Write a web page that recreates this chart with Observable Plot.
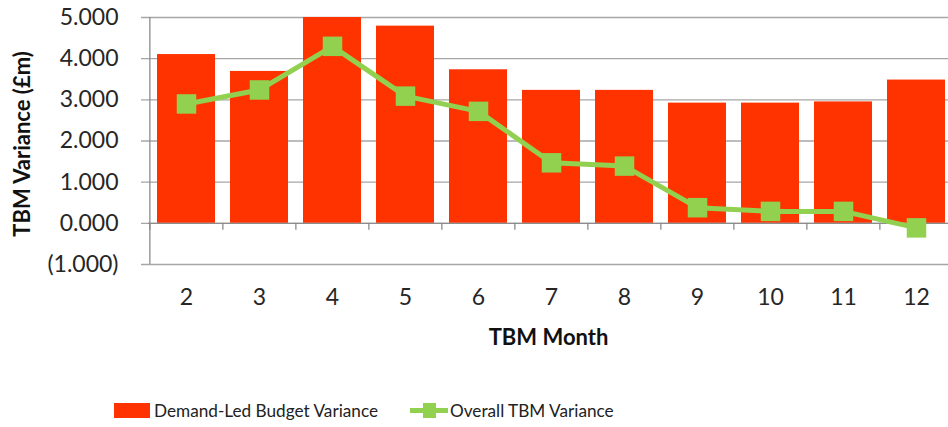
<!DOCTYPE html>
<html>
<head>
<meta charset="utf-8">
<script src="https://cdn.jsdelivr.net/npm/d3@7"></script>
<script src="https://cdn.jsdelivr.net/npm/@observablehq/plot@0.6"></script>
<style>
  body { margin: 0; background: #fff; font-family: Lato, "Open Sans", sans-serif; }
  #wrap { position: relative; width: 948px; height: 427px; overflow: hidden; }
  #legend { position: absolute; left: 0; top: 398px; width: 948px; height: 24px; font-size: 17.2px; color: #222; }
  .item { position: absolute; top: 0; display: flex; align-items: center; height: 24px; }
  .sw-bar { width: 36px; height: 15px; background: #FF3300; margin-right: 4px; }
  .sw-line { position: relative; width: 38px; height: 24px; margin-right: 2px; }
  .sw-line .ln { position: absolute; left: 0; right: 0; top: 10px; height: 5px; background: #92D050; }
  .sw-line .sq { position: absolute; left: 13px; top: 5px; width: 13px; height: 15px; background: #92D050; }
</style>
</head>
<body>
<div id="wrap"><div id="legend">
  <div class="item" style="left:114px"><div class="sw-bar"></div><span>Demand-Led Budget Variance</span></div>
  <div class="item" style="left:410px"><div class="sw-line"><div class="ln"></div><div class="sq"></div></div><span>Overall TBM Variance</span></div>
</div></div>
<script>
const months = [2, 3, 4, 5, 6, 7, 8, 9, 10, 11, 12];
const demandLed = [4.10, 3.69, 5.00, 4.79, 3.73, 3.23, 3.23, 2.92, 2.92, 2.95, 3.48];
const overall = [2.90, 3.24, 4.30, 3.09, 2.72, 1.47, 1.39, 0.38, 0.29, 0.29, -0.11];
const yTicks = [-1, 0, 1, 2, 3, 4, 5];
const yTitle = "TBM Variance (£m)";
const xTitle = "TBM Month";

const data = months.map((m, i) => ({month: m, bar: demandLed[i], line: overall[i]}));

const rangeX = [148, 954];
const step = (rangeX[1] - rangeX[0]) / months.length;
const fmt = d => d < 0 ? `(${(-d).toFixed(3)})` : d.toFixed(3);

const chart = Plot.plot({
  width: 948,
  height: 380,
  marginLeft: 148,
  marginRight: 0,
  marginTop: 17,
  marginBottom: 116,
  style: {fontFamily: "Lato, 'Open Sans', sans-serif", background: "#fff", overflow: "hidden"},
  x: {type: "band", domain: months, range: rangeX, paddingInner: 0.2, paddingOuter: 0.1, axis: null},
  y: {domain: [-1, 5], axis: null},
  marks: [
    Plot.ruleY(yTicks, {y: d => d, stroke: "#a6a6a6", strokeWidth: 1.3, insetLeft: -7}),
    Plot.barY(data, {x: "month", y: "bar", fill: "#FF3300"}),
    Plot.ruleY([0], {y: d => d, stroke: "#8c8c8c", strokeWidth: 1.3}),
    Plot.ruleX(months, {x: d => d, y1: 0, y2: -0.17, dx: -step / 2, stroke: "#8c8c8c", strokeWidth: 1.3}),
    Plot.ruleX([months[0]], {x: d => d, y1: -1, y2: 5, dx: -step / 2, stroke: "#8c8c8c", strokeWidth: 1.3}),
    Plot.line(data, {x: "month", y: "line", stroke: "#92D050", strokeWidth: 5}),
    Plot.dot(data, {x: "month", y: "line", symbol: "square", r: 11, fill: "#92D050", stroke: "none"}),
    Plot.axisY(yTicks, {tickSize: 0, tickPadding: 30, tickFormat: fmt, fontSize: 23, fill: "#262626", label: null}),
    Plot.axisX(months, {tickSize: 0, tickPadding: 24, fontSize: 23, fill: "#262626", label: null}),
    Plot.text([yTitle], {frameAnchor: "left", textAnchor: "middle", dx: -126, dy: 3, rotate: -90, fontWeight: "bold", fontSize: 22, fill: "#111"}),
    Plot.text([xTitle], {frameAnchor: "bottom", textAnchor: "middle", dy: 80, fontWeight: "bold", fontSize: 22, fill: "#111"})
  ]
});
document.getElementById("wrap").prepend(chart);
</script>
</body>
</html>
